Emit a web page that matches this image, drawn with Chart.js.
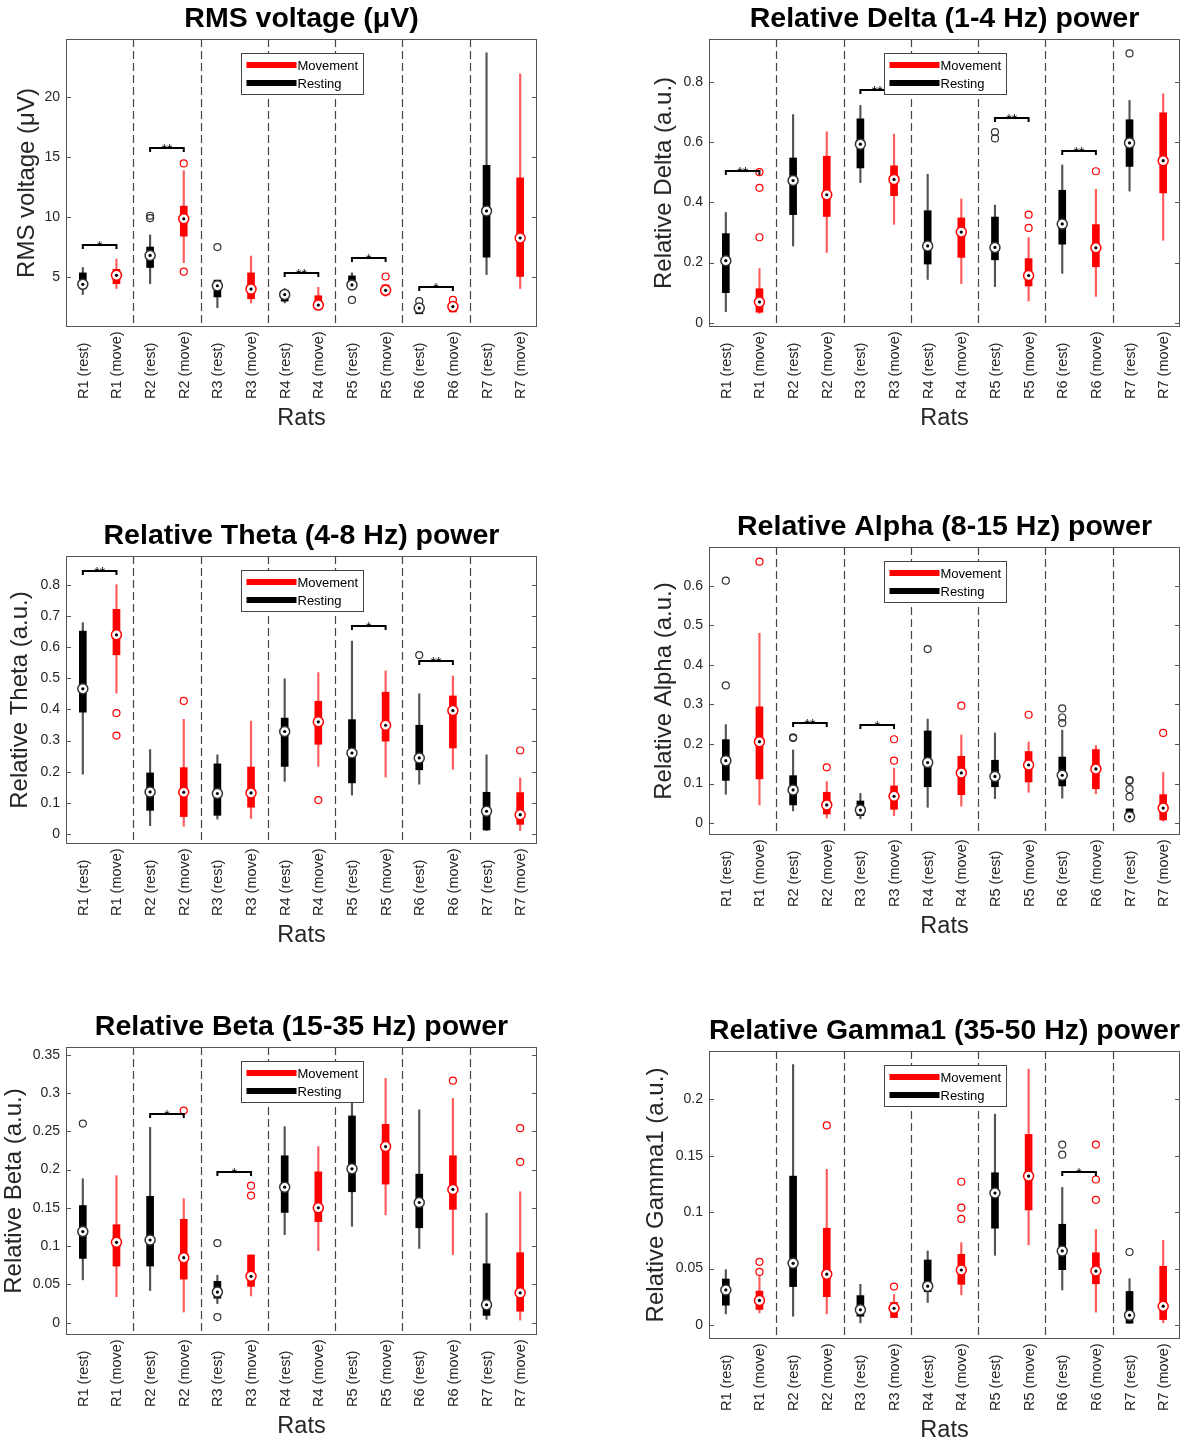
<!DOCTYPE html>
<html>
<head>
<meta charset="utf-8">
<script src="https://cdn.jsdelivr.net/npm/chart.js@4.4.1/dist/chart.umd.min.js"></script>
<style>
html, body { margin: 0; padding: 0; background: #fff; overflow: hidden; width: 1188px; height: 1441px; }
canvas { position: absolute; }
</style>
</head>
<body>
<canvas id="c1" width="594" height="433" style="left:0;top:0"></canvas>
<canvas id="c2" width="594" height="433" style="left:594px;top:0"></canvas>
<canvas id="c3" width="594" height="433" style="left:0;top:517px"></canvas>
<canvas id="c4" width="594" height="433" style="left:594px;top:508px"></canvas>
<canvas id="c5" width="594" height="433" style="left:0;top:1008px"></canvas>
<canvas id="c6" width="594" height="433" style="left:594px;top:1012px"></canvas>
<script>
// categorias (rest / move por rata)
const cats = ['R1 (rest)', 'R1 (move)', 'R2 (rest)', 'R2 (move)', 'R3 (rest)', 'R3 (move)', 'R4 (rest)',
  'R4 (move)', 'R5 (rest)', 'R5 (move)', 'R6 (rest)', 'R6 (move)', 'R7 (rest)', 'R7 (move)'];

// RMS voltage
const rmsLo  = [3.55, 4.05, 4.45, 6.2, 2.45, 2.85, 2.85, 2.6, 4.05, 3.4, 1.95, 2.1, 5.2, 4.05];
const rmsQ1  = [4.3, 4.45, 5.8, 8.4, 3.35, 3.2, 3.0, 2.6, 4.05, 3.55, 1.95, 2.1, 6.65, 5.05];
const rmsMed = [4.4, 5.15, 6.8, 9.85, 4.28, 4.0, 3.55, 2.67, 4.35, 3.9, 2.42, 2.55, 10.5, 8.25];
const rmsQ3  = [5.35, 5.65, 7.5, 10.9, 4.75, 5.35, 3.9, 3.45, 5.1, 4.35, 2.6, 2.65, 14.3, 13.25];
const rmsHi  = [5.8, 6.5, 8.5, 13.85, 4.75, 6.75, 4.05, 4.15, 5.35, 4.4, 2.6, 2.65, 23.65, 21.9];
const rmsOut = [[], [], [10.1, 9.9], [14.45, 5.45], [7.5], [], [], [], [3.1], [5.05], [3.0], [3.1], [], []];
const rmsSig = [[1, 7.7, '*'], [2, 15.7, '**'], [4, 5.35, '**'], [5, 6.55, '*'], [6, 4.15, '*']];
const rmsTicks = [5, 10, 15, 20];

// Delta
const deltaLo  = [0.037, 0.031, 0.255, 0.233, 0.465, 0.327, 0.144, 0.13, 0.12, 0.072, 0.164, 0.0875, 0.437, 0.274];
const deltaQ1  = [0.1, 0.035, 0.359, 0.353, 0.514, 0.422, 0.195, 0.217, 0.209, 0.122, 0.261, 0.186, 0.519, 0.431];
const deltaMed = [0.206, 0.069, 0.472, 0.425, 0.593, 0.476, 0.255, 0.301, 0.25, 0.157, 0.328, 0.249, 0.597, 0.538];
const deltaQ3  = [0.296, 0.113, 0.547, 0.553, 0.677, 0.521, 0.372, 0.348, 0.351, 0.213, 0.44, 0.326, 0.674, 0.697];
const deltaHi  = [0.366, 0.18, 0.691, 0.634, 0.722, 0.626, 0.493, 0.411, 0.391, 0.283, 0.524, 0.443, 0.738, 0.76];
const deltaOut = [[], [0.5, 0.448, 0.284], [], [], [], [], [], [], [0.633, 0.612], [0.359, 0.315], [], [0.503], [0.894], []];
const deltaSig = [[1, 0.505, '**'], [3, 0.772, '**'], [5, 0.68, '**'], [6, 0.571, '**']];
const deltaTicks = [0, 0.2, 0.4, 0.6, 0.8];

// Theta
const thetaLo  = [0.192, 0.452, 0.027, 0.025, 0.048, 0.05, 0.169, 0.217, 0.125, 0.183, 0.16, 0.208, 0.011, 0.011];
const thetaQ1  = [0.391, 0.575, 0.076, 0.056, 0.06, 0.086, 0.217, 0.288, 0.164, 0.298, 0.206, 0.276, 0.013, 0.031];
const thetaMed = [0.466, 0.639, 0.135, 0.134, 0.13, 0.132, 0.329, 0.36, 0.26, 0.349, 0.244, 0.396, 0.073, 0.062];
const thetaQ3  = [0.651, 0.721, 0.196, 0.213, 0.225, 0.215, 0.372, 0.426, 0.367, 0.455, 0.349, 0.443, 0.134, 0.133];
const thetaHi  = [0.678, 0.8, 0.271, 0.368, 0.254, 0.362, 0.498, 0.518, 0.619, 0.523, 0.45, 0.507, 0.254, 0.18];
const thetaOut = [[], [0.388, 0.316], [], [0.427], [], [], [], [0.109], [], [], [0.574], [], [], [0.268]];
const thetaSig = [[1, 0.843, '**'], [5, 0.666, '*'], [6, 0.555, '**']];
const thetaTicks = [0, 0.1, 0.2, 0.3, 0.4, 0.5, 0.6, 0.7, 0.8];

// Alpha
const alphaLo  = [0.073, 0.046, 0.031, 0.013, 0.011, 0.019, 0.04, 0.043, 0.062, 0.078, 0.063, 0.074, 0.004, 0.005];
const alphaQ1  = [0.108, 0.112, 0.046, 0.023, 0.019, 0.035, 0.092, 0.072, 0.092, 0.104, 0.094, 0.087, 0.007, 0.008];
const alphaMed = [0.158, 0.206, 0.084, 0.046, 0.033, 0.068, 0.153, 0.127, 0.118, 0.147, 0.121, 0.137, 0.016, 0.038];
const alphaQ3  = [0.211, 0.294, 0.12, 0.078, 0.056, 0.094, 0.233, 0.169, 0.159, 0.181, 0.167, 0.186, 0.036, 0.072];
const alphaHi  = [0.249, 0.48, 0.185, 0.105, 0.075, 0.139, 0.263, 0.223, 0.228, 0.205, 0.235, 0.196, 0.036, 0.128];
const alphaOut = [[0.348, 0.613], [0.661], [0.217, 0.215], [0.141], [], [0.212, 0.158], [0.44], [0.297], [], [0.274],
  [0.29, 0.267, 0.253], [], [0.109, 0.107, 0.086, 0.067], [0.228]];
const alphaSig = [[2, 0.253, '**'], [3, 0.247, '*']];
const alphaTicks = [0, 0.1, 0.2, 0.3, 0.4, 0.5, 0.6];

// Beta
const betaLo  = [0.056, 0.034, 0.042, 0.014, 0.025, 0.035, 0.115, 0.094, 0.126, 0.141, 0.097, 0.089, 0.0044, 0.0035];
const betaQ1  = [0.084, 0.074, 0.074, 0.057, 0.032, 0.0475, 0.144, 0.132, 0.171, 0.181, 0.124, 0.148, 0.0096, 0.015];
const betaMed = [0.119, 0.105, 0.108, 0.085, 0.04, 0.0606, 0.177, 0.15, 0.201, 0.23, 0.157, 0.174, 0.0235, 0.039];
const betaQ3  = [0.153, 0.128, 0.165, 0.135, 0.054, 0.0885, 0.218, 0.197, 0.27, 0.259, 0.194, 0.218, 0.077, 0.0915];
const betaHi  = [0.188, 0.192, 0.255, 0.162, 0.062, 0.0885, 0.256, 0.23, 0.29, 0.319, 0.278, 0.293, 0.143, 0.171];
const betaOut = [[0.26], [], [], [0.277], [0.104, 0.0074], [0.179, 0.166], [], [], [], [], [], [0.316], [], [0.254, 0.21]];
const betaSig = [[2, 0.273, '*'], [3, 0.197, '*']];
const betaTicks = [0, 0.05, 0.1, 0.15, 0.2, 0.25, 0.3, 0.35];

// Gamma1
const gammaLo  = [0.0098, 0.0107, 0.0077, 0.0098, 0.0018, 0.0065, 0.0199, 0.0267, 0.0617, 0.071, 0.031, 0.0113, 0.0015, 0.002];
const gammaQ1  = [0.0175, 0.0137, 0.034, 0.025, 0.0077, 0.0065, 0.0294, 0.036, 0.0858, 0.102, 0.049, 0.0365, 0.0015, 0.0047];
const gammaMed = [0.031, 0.0217, 0.0546, 0.045, 0.0134, 0.0148, 0.0344, 0.0487, 0.117, 0.132, 0.0656, 0.0478, 0.0086, 0.0166];
const gammaQ3  = [0.0407, 0.03, 0.132, 0.0858, 0.026, 0.02, 0.0576, 0.0626, 0.135, 0.169, 0.0893, 0.064, 0.0297, 0.052];
const gammaHi  = [0.049, 0.043, 0.231, 0.138, 0.036, 0.027, 0.0656, 0.073, 0.187, 0.227, 0.122, 0.0846, 0.041, 0.075];
const gammaOut = [[], [0.056, 0.047], [], [0.177], [], [0.034], [], [0.127, 0.104, 0.094], [], [], [0.16, 0.151],
  [0.16, 0.129, 0.111], [0.0647], []];
const gammaSig = [[6, 0.136, '*']];
const gammaTicks = [0, 0.05, 0.1, 0.15, 0.2];

const FONT = '"Liberation Sans", Arial, Helvetica, sans-serif';
Chart.defaults.font.family = FONT;
Chart.defaults.animation = false;

const REST = '#000000', MOVE = '#ff0000';
const colorOf = i => i % 2 === 0 ? REST : MOVE;

// lineas punteadas, corchetes, marco, etiquetas del eje x y leyenda
const decor = {
  id: 'decor',
  beforeDatasetsDraw(chart) {
    const { ctx, chartArea: a, scales: { x } } = chart;
    ctx.save();
    ctx.strokeStyle = '#444';
    ctx.lineWidth = 1.2;
    ctx.setLineDash([8, 4]);
    for (let k = 1; k < cats.length / 2; k++) {
      const px = Math.round((x.getPixelForValue(2 * k - 1) + x.getPixelForValue(2 * k)) / 2) + 0.5;
      ctx.beginPath();
      ctx.moveTo(px, a.top);
      ctx.lineTo(px, a.bottom);
      ctx.stroke();
    }
    ctx.restore();
  },
  afterDatasetsDraw(chart, args, opts) {
    const { ctx, chartArea: a, scales: { x, y } } = chart;
    ctx.save();
    // corchetes de significancia
    ctx.strokeStyle = '#000';
    ctx.fillStyle = '#000';
    ctx.lineWidth = 2;
    ctx.font = '14px ' + FONT;
    ctx.textAlign = 'center';
    ctx.textBaseline = 'alphabetic';
    for (const [rat, v, lab] of opts.sig) {
      const x1 = x.getPixelForValue(2 * rat - 2), x2 = x.getPixelForValue(2 * rat - 1);
      const py = Math.round(y.getPixelForValue(v));
      ctx.beginPath();
      ctx.moveTo(x1, py + 4);
      ctx.lineTo(x1, py);
      ctx.lineTo(x2, py);
      ctx.lineTo(x2, py + 4);
      ctx.stroke();
      ctx.fillText(lab, (x1 + x2) / 2, py + 6);
    }
    // marco y ticks internos
    ctx.strokeStyle = '#555';
    ctx.lineWidth = 1;
    ctx.strokeRect(a.left + 0.5, a.top + 0.5, a.width - 1, a.height - 1);
    for (const t of y.ticks) {
      const py = Math.round(y.getPixelForValue(t.value)) + 0.5;
      ctx.beginPath();
      ctx.moveTo(a.left, py); ctx.lineTo(a.left + 5, py);
      ctx.moveTo(a.right - 5, py); ctx.lineTo(a.right, py);
      ctx.stroke();
    }
    // etiquetas del eje x, giradas y alineadas por el inicio
    ctx.fillStyle = '#262626';
    ctx.font = '14.5px ' + FONT;
    ctx.textAlign = 'left';
    ctx.textBaseline = 'middle';
    x.getLabels().forEach((lab, i) => {
      ctx.save();
      ctx.translate(x.getPixelForValue(i) + 1, a.bottom + 72);
      ctx.rotate(-Math.PI / 2);
      ctx.fillText(lab, 0, 0);
      ctx.restore();
    });
    // leyenda
    const lw = 122, lh = 41;
    const lx = Math.round((a.left + a.right) / 2 - lw / 2) + 0.5, ly = Math.round(a.top) + 14.5;
    ctx.fillStyle = '#fff';
    ctx.strokeStyle = '#444';
    ctx.fillRect(lx, ly, lw, lh);
    ctx.strokeRect(lx, ly, lw, lh);
    ctx.font = '13px ' + FONT;
    [['Movement', MOVE, 11.5], ['Resting', REST, 29.5]].forEach(([txt, col, dy]) => {
      ctx.fillStyle = col;
      ctx.fillRect(lx + 5, ly + dy - 3, 50, 6);
      ctx.fillStyle = '#000';
      ctx.fillText(txt, lx + 56, ly + dy + 1);
    });
    ctx.restore();
  }
};

function makePanel(id, P) {
  const outPts = P.out.flatMap((arr, i) => arr.map(v => ({ x: cats[i], y: v })));
  new Chart(document.getElementById(id), {
    type: 'bar',
    data: {
      labels: cats,
      datasets: [
        { type: 'line', data: P.med, showLine: false, pointRadius: 1.6, pointBorderWidth: 0,
          pointBackgroundColor: '#000', order: 0 },
        { type: 'line', data: P.med, showLine: false, pointRadius: 5, pointBorderWidth: 1.5,
          pointBackgroundColor: '#fff', pointBorderColor: c => c.dataIndex % 2 === 0 ? '#333' : MOVE, order: 1 },
        { type: 'line', data: outPts, showLine: false, pointRadius: 3.5, pointBorderWidth: 1.2,
          pointBackgroundColor: 'rgba(0,0,0,0)',
          pointBorderColor: c => (c.raw && c.raw.x.includes('rest')) ? '#333' : MOVE, order: 2 },
        { data: P.q1.map((v, i) => [v, P.q3[i]]), backgroundColor: c => colorOf(c.dataIndex),
          barThickness: 7, grouped: false, order: 3 },
        { data: P.lo.map((v, i) => [v, P.hi[i]]),
          backgroundColor: c => c.dataIndex % 2 === 0 ? '#555' : '#ff5c5c',
          barThickness: 1.5, grouped: false, order: 4 }
      ]
    },
    options: {
      responsive: false,
      events: [],
      layout: { padding: { left: 0, right: P.pr, top: 0, bottom: 0 } },
      plugins: {
        legend: { display: false },
        tooltip: { enabled: false },
        title: { display: true, text: P.title, color: '#000', fullSize: false,
          font: { size: 28.5, weight: 'bold' }, padding: { top: 2.3, bottom: 2.5 } },
        decor: { sig: P.sig }
      },
      scales: {
        x: {
          type: 'category', offset: true,
          grid: { display: false, drawTicks: false }, border: { display: false },
          ticks: { display: false },
          title: { display: true, text: 'Rats', color: '#262626', font: { size: 23.5 }, padding: { top: 0, bottom: 0 } },
          afterFit: s => { s.height = 106; }
        },
        y: {
          min: P.range[0], max: P.range[1],
          grid: { display: false, drawTicks: false }, border: { display: false },
          afterBuildTicks: s => { s.ticks = P.ticks.map(v => ({ value: v })); },
          ticks: { padding: 6, color: '#262626', font: { size: 14 }, callback: v => String(v) },
          title: { display: true, text: P.ylabel, color: '#262626', font: { size: 24 }, padding: { top: P.ytp, bottom: 0 } },
          afterFit: s => { s.width = P.yw; }
        }
      }
    },
    plugins: [decor]
  });
}

const LEFT = { yw: 66, pr: 57 }, RIGHT = { yw: 115, pr: 8 };

makePanel('c1', { ...LEFT, ytp: 12.6, title: 'RMS voltage (μV)', ylabel: 'RMS voltage (μV)', range: [0.85, 24.8],
  ticks: rmsTicks, lo: rmsLo, q1: rmsQ1, med: rmsMed, q3: rmsQ3, hi: rmsHi, out: rmsOut, sig: rmsSig });
makePanel('c2', { ...RIGHT, ytp: 55.6, title: 'Relative Delta (1-4 Hz) power', ylabel: 'Relative Delta (a.u.)', range: [-0.014, 0.942],
  ticks: deltaTicks, lo: deltaLo, q1: deltaQ1, med: deltaMed, q3: deltaQ3, hi: deltaHi, out: deltaOut, sig: deltaSig });
makePanel('c3', { ...LEFT, ytp: 5.6, title: 'Relative Theta (4-8 Hz) power', ylabel: 'Relative Theta (a.u.)', range: [-0.032, 0.892],
  ticks: thetaTicks, lo: thetaLo, q1: thetaQ1, med: thetaMed, q3: thetaQ3, hi: thetaHi, out: thetaOut, sig: thetaSig });
makePanel('c4', { ...RIGHT, ytp: 55.6, title: 'Relative Alpha (8-15 Hz) power', ylabel: 'Relative Alpha (a.u.)', range: [-0.03, 0.698],
  ticks: alphaTicks, lo: alphaLo, q1: alphaQ1, med: alphaMed, q3: alphaQ3, hi: alphaHi, out: alphaOut, sig: alphaSig });
makePanel('c5', { ...LEFT, ytp: 0, title: 'Relative Beta (15-35 Hz) power', ylabel: 'Relative Beta (a.u.)', range: [-0.016, 0.36],
  ticks: betaTicks, lo: betaLo, q1: betaQ1, med: betaMed, q3: betaQ3, hi: betaHi, out: betaOut, sig: betaSig });
makePanel('c6', { ...RIGHT, ytp: 47.6, title: 'Relative Gamma1 (35-50 Hz) power', ylabel: 'Relative Gamma1 (a.u.)', range: [-0.0125, 0.243],
  ticks: gammaTicks, lo: gammaLo, q1: gammaQ1, med: gammaMed, q3: gammaQ3, hi: gammaHi, out: gammaOut, sig: gammaSig });
</script>
</body>
</html>
